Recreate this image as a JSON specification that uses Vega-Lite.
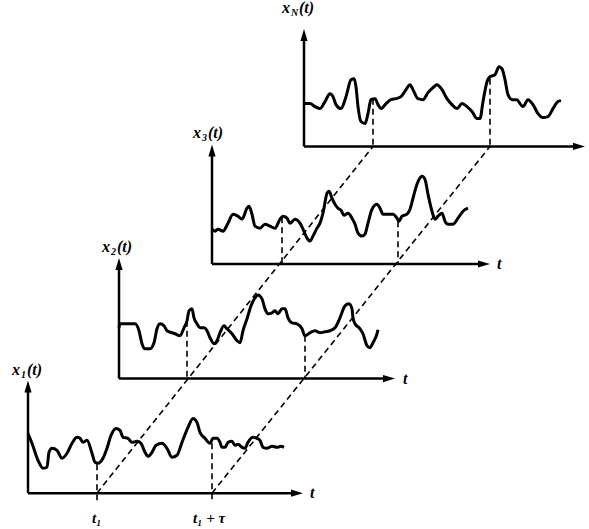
{
  "$schema": "https://vega.github.io/schema/vega-lite/v6.json",
  "width": 589,
  "height": 529,
  "autosize": {"type": "fit", "contains": "padding"},
  "padding": 0,
  "background": "white",
  "config": {"view": {"stroke": null}},
  "datasets": {
    "curves": [
      {"p":"1","x":28,"y":433},{"p":"1","x":32,"y":443},{"p":"1","x":38,"y":460},{"p":"1","x":43,"y":468},{"p":"1","x":47,"y":467},{"p":"1","x":49,"y":452},{"p":"1","x":52,"y":448},{"p":"1","x":57,"y":450},{"p":"1","x":62,"y":458},{"p":"1","x":67,"y":453},{"p":"1","x":72,"y":443},{"p":"1","x":77,"y":437},{"p":"1","x":80,"y":438},{"p":"1","x":83,"y":442},{"p":"1","x":87,"y":440},{"p":"1","x":92,"y":453},{"p":"1","x":95,"y":462},{"p":"1","x":98,"y":463},{"p":"1","x":103,"y":458},{"p":"1","x":107,"y":448},{"p":"1","x":111,"y":435},{"p":"1","x":116,"y":428},{"p":"1","x":120,"y":430},{"p":"1","x":123,"y":437},{"p":"1","x":128,"y":438},{"p":"1","x":132,"y":442},{"p":"1","x":137,"y":441},{"p":"1","x":141,"y":443},{"p":"1","x":145,"y":452},{"p":"1","x":148,"y":456},{"p":"1","x":152,"y":452},{"p":"1","x":156,"y":445},{"p":"1","x":162,"y":443},{"p":"1","x":167,"y":448},{"p":"1","x":172,"y":457},{"p":"1","x":177,"y":455},{"p":"1","x":182,"y":442},{"p":"1","x":188,"y":427},{"p":"1","x":193,"y":418},{"p":"1","x":197,"y":422},{"p":"1","x":200,"y":432},{"p":"1","x":205,"y":438},{"p":"1","x":210,"y":443},{"p":"1","x":213,"y":438},{"p":"1","x":217,"y":438},{"p":"1","x":220,"y":442},{"p":"1","x":222,"y":447},{"p":"1","x":225,"y":447},{"p":"1","x":228,"y":442},{"p":"1","x":232,"y":441},{"p":"1","x":235,"y":445},{"p":"1","x":238,"y":444},{"p":"1","x":242,"y":447},{"p":"1","x":245,"y":448},{"p":"1","x":248,"y":442},{"p":"1","x":253,"y":437},{"p":"1","x":257,"y":438},{"p":"1","x":260,"y":440},{"p":"1","x":263,"y":447},{"p":"1","x":267,"y":448},{"p":"1","x":272,"y":446},{"p":"1","x":277,"y":447},{"p":"1","x":281,"y":446},{"p":"1","x":284,"y":447},
      {"p":"2","x":119,"y":327},{"p":"2","x":120,"y":323},{"p":"2","x":125,"y":323},{"p":"2","x":130,"y":323},{"p":"2","x":135,"y":323},{"p":"2","x":139,"y":330},{"p":"2","x":142,"y":343},{"p":"2","x":145,"y":348},{"p":"2","x":150,"y":348},{"p":"2","x":154,"y":342},{"p":"2","x":157,"y":328},{"p":"2","x":160,"y":323},{"p":"2","x":164,"y":325},{"p":"2","x":167,"y":330},{"p":"2","x":172,"y":332},{"p":"2","x":175,"y":333},{"p":"2","x":180,"y":335},{"p":"2","x":184,"y":327},{"p":"2","x":187,"y":320},{"p":"2","x":189,"y":310},{"p":"2","x":192,"y":308},{"p":"2","x":194,"y":317},{"p":"2","x":197,"y":323},{"p":"2","x":200,"y":327},{"p":"2","x":204,"y":327},{"p":"2","x":207,"y":330},{"p":"2","x":210,"y":337},{"p":"2","x":214,"y":343},{"p":"2","x":217,"y":340},{"p":"2","x":220,"y":332},{"p":"2","x":224,"y":325},{"p":"2","x":227,"y":328},{"p":"2","x":232,"y":333},{"p":"2","x":237,"y":340},{"p":"2","x":240,"y":342},{"p":"2","x":243,"y":330},{"p":"2","x":247,"y":318},{"p":"2","x":251,"y":305},{"p":"2","x":255,"y":297},{"p":"2","x":258,"y":294},{"p":"2","x":262,"y":298},{"p":"2","x":265,"y":308},{"p":"2","x":268,"y":313},{"p":"2","x":272,"y":312},{"p":"2","x":275,"y":310},{"p":"2","x":278,"y":313},{"p":"2","x":282,"y":308},{"p":"2","x":285,"y":308},{"p":"2","x":288,"y":317},{"p":"2","x":292,"y":322},{"p":"2","x":297,"y":323},{"p":"2","x":302,"y":328},{"p":"2","x":305,"y":335},{"p":"2","x":310,"y":332},{"p":"2","x":315,"y":330},{"p":"2","x":320,"y":332},{"p":"2","x":325,"y":331},{"p":"2","x":330,"y":330},{"p":"2","x":335,"y":327},{"p":"2","x":340,"y":317},{"p":"2","x":345,"y":305},{"p":"2","x":349,"y":303},{"p":"2","x":352,"y":308},{"p":"2","x":353,"y":317},{"p":"2","x":355,"y":323},{"p":"2","x":360,"y":328},{"p":"2","x":363,"y":333},{"p":"2","x":367,"y":345},{"p":"2","x":370,"y":347},{"p":"2","x":373,"y":342},{"p":"2","x":377,"y":333},{"p":"2","x":378,"y":329},
      {"p":"3","x":212,"y":228},{"p":"3","x":215,"y":230},{"p":"3","x":218,"y":228},{"p":"3","x":223,"y":230},{"p":"3","x":228,"y":222},{"p":"3","x":233,"y":213},{"p":"3","x":238,"y":215},{"p":"3","x":242,"y":218},{"p":"3","x":247,"y":207},{"p":"3","x":249,"y":205},{"p":"3","x":252,"y":213},{"p":"3","x":255,"y":225},{"p":"3","x":260,"y":227},{"p":"3","x":265,"y":223},{"p":"3","x":270,"y":225},{"p":"3","x":275,"y":227},{"p":"3","x":280,"y":218},{"p":"3","x":283,"y":215},{"p":"3","x":287,"y":217},{"p":"3","x":290,"y":222},{"p":"3","x":295,"y":218},{"p":"3","x":300,"y":222},{"p":"3","x":303,"y":228},{"p":"3","x":307,"y":237},{"p":"3","x":310,"y":240},{"p":"3","x":313,"y":235},{"p":"3","x":317,"y":227},{"p":"3","x":320,"y":222},{"p":"3","x":323,"y":212},{"p":"3","x":327,"y":192},{"p":"3","x":329,"y":190},{"p":"3","x":332,"y":197},{"p":"3","x":335,"y":203},{"p":"3","x":338,"y":207},{"p":"3","x":341,"y":209},{"p":"3","x":344,"y":214},{"p":"3","x":348,"y":212},{"p":"3","x":352,"y":217},{"p":"3","x":355,"y":223},{"p":"3","x":358,"y":232},{"p":"3","x":362,"y":235},{"p":"3","x":365,"y":233},{"p":"3","x":368,"y":222},{"p":"3","x":372,"y":208},{"p":"3","x":377,"y":203},{"p":"3","x":380,"y":207},{"p":"3","x":383,"y":213},{"p":"3","x":388,"y":213},{"p":"3","x":393,"y":213},{"p":"3","x":397,"y":217},{"p":"3","x":399,"y":220},{"p":"3","x":402,"y":215},{"p":"3","x":407,"y":213},{"p":"3","x":410,"y":208},{"p":"3","x":413,"y":197},{"p":"3","x":417,"y":183},{"p":"3","x":422,"y":175},{"p":"3","x":425,"y":178},{"p":"3","x":428,"y":193},{"p":"3","x":432,"y":210},{"p":"3","x":435,"y":218},{"p":"3","x":438,"y":215},{"p":"3","x":442,"y":212},{"p":"3","x":445,"y":220},{"p":"3","x":448,"y":223},{"p":"3","x":453,"y":223},{"p":"3","x":458,"y":217},{"p":"3","x":463,"y":210},{"p":"3","x":468,"y":207},
      {"p":"N","x":305,"y":102},{"p":"N","x":310,"y":102},{"p":"N","x":315,"y":105},{"p":"N","x":320,"y":107},{"p":"N","x":325,"y":100},{"p":"N","x":330,"y":92},{"p":"N","x":333,"y":95},{"p":"N","x":336,"y":103},{"p":"N","x":341,"y":107},{"p":"N","x":346,"y":95},{"p":"N","x":351,"y":78},{"p":"N","x":354,"y":77},{"p":"N","x":356,"y":85},{"p":"N","x":358,"y":105},{"p":"N","x":361,"y":120},{"p":"N","x":365,"y":122},{"p":"N","x":368,"y":112},{"p":"N","x":371,"y":98},{"p":"N","x":375,"y":97},{"p":"N","x":378,"y":103},{"p":"N","x":381,"y":107},{"p":"N","x":386,"y":102},{"p":"N","x":391,"y":98},{"p":"N","x":396,"y":97},{"p":"N","x":401,"y":95},{"p":"N","x":406,"y":88},{"p":"N","x":410,"y":83},{"p":"N","x":413,"y":88},{"p":"N","x":418,"y":97},{"p":"N","x":423,"y":98},{"p":"N","x":428,"y":91},{"p":"N","x":433,"y":86},{"p":"N","x":437,"y":83},{"p":"N","x":442,"y":88},{"p":"N","x":447,"y":97},{"p":"N","x":452,"y":103},{"p":"N","x":457,"y":107},{"p":"N","x":462,"y":102},{"p":"N","x":467,"y":105},{"p":"N","x":472,"y":110},{"p":"N","x":477,"y":117},{"p":"N","x":480,"y":117},{"p":"N","x":483,"y":100},{"p":"N","x":487,"y":80},{"p":"N","x":490,"y":75},{"p":"N","x":495,"y":73},{"p":"N","x":499,"y":65},{"p":"N","x":502,"y":67},{"p":"N","x":505,"y":78},{"p":"N","x":508,"y":93},{"p":"N","x":512,"y":98},{"p":"N","x":517,"y":98},{"p":"N","x":520,"y":102},{"p":"N","x":523,"y":105},{"p":"N","x":528,"y":98},{"p":"N","x":533,"y":103},{"p":"N","x":538,"y":112},{"p":"N","x":543,"y":116},{"p":"N","x":548,"y":115},{"p":"N","x":553,"y":107},{"p":"N","x":558,"y":100},{"p":"N","x":561,"y":99}
    ],
    "axes": [
      {"x":28,"y":390,"x2":28,"y2":493},{"x":28,"y":493,"x2":296,"y2":493},
      {"x":119,"y":267,"x2":119,"y2":378},{"x":119,"y":378,"x2":388,"y2":378},
      {"x":212,"y":153,"x2":212,"y2":263},{"x":212,"y":263,"x2":483,"y2":263},
      {"x":304,"y":37,"x2":304,"y2":145},{"x":304,"y":145,"x2":578,"y2":145}
    ],
    "arrows": [
      {"x":28,"y":386,"shape":"M0,-1L0.6,1L-0.6,1Z"},{"x":297,"y":493,"shape":"M1,0L-1,0.6L-1,-0.6Z"},
      {"x":119,"y":263,"shape":"M0,-1L0.6,1L-0.6,1Z"},{"x":389,"y":378,"shape":"M1,0L-1,0.6L-1,-0.6Z"},
      {"x":212,"y":149,"shape":"M0,-1L0.6,1L-0.6,1Z"},{"x":484,"y":263,"shape":"M1,0L-1,0.6L-1,-0.6Z"},
      {"x":304,"y":33,"shape":"M0,-1L0.6,1L-0.6,1Z"},{"x":579,"y":145,"shape":"M1,0L-1,0.6L-1,-0.6Z"}
    ],
    "dashes": [
      {"x":97,"y":464,"x2":97,"y2":503},{"x":212,"y":443,"x2":212,"y2":502},
      {"x":187,"y":320,"x2":187,"y2":378},{"x":305,"y":335,"x2":305,"y2":378},
      {"x":282,"y":216,"x2":282,"y2":263},{"x":398,"y":220,"x2":398,"y2":263},
      {"x":373,"y":97,"x2":373,"y2":145},{"x":490,"y":77,"x2":490,"y2":145},
      {"x":97,"y":493,"x2":373,"y2":145},{"x":212,"y":493,"x2":490,"y2":145}
    ],
    "labels": [
      {"s":"x","x":12,"y":374,"fs":16},{"s":"1","x":21,"y":377,"fs":10},{"s":"(t)","x":27,"y":374,"fs":16},
      {"s":"x","x":102,"y":251,"fs":16},{"s":"2","x":111,"y":254,"fs":10},{"s":"(t)","x":117,"y":251,"fs":16},
      {"s":"x","x":193,"y":137,"fs":16},{"s":"3","x":202,"y":140,"fs":10},{"s":"(t)","x":208,"y":137,"fs":16},
      {"s":"x","x":282,"y":11,"fs":16},{"s":"N","x":291,"y":14,"fs":10},{"s":"(t)","x":299,"y":11,"fs":16},
      {"s":"t","x":310,"y":498,"fs":16},{"s":"t","x":403,"y":383,"fs":16},{"s":"t","x":497,"y":268,"fs":16},
      {"s":"t₁","x":92,"y":523,"fs":15},{"s":"t₁ + τ","x":193,"y":523,"fs":15}
    ]
  },
  "layer": [
    {
      "data": {"name": "dashes"},
      "mark": {"type": "rule", "color": "black", "strokeWidth": 1.6, "strokeDash": [6, 4]},
      "encoding": {
        "x": {"field": "x", "type": "quantitative", "scale": {"domain": [0, 589], "nice": false, "zero": false}, "axis": null},
        "y": {"field": "y", "type": "quantitative", "scale": {"domain": [0, 529], "nice": false, "zero": false, "reverse": true}, "axis": null},
        "x2": {"field": "x2"},
        "y2": {"field": "y2"}
      }
    },
    {
      "data": {"name": "axes"},
      "mark": {"type": "rule", "color": "black", "strokeWidth": 2.5},
      "encoding": {
        "x": {"field": "x", "type": "quantitative"},
        "y": {"field": "y", "type": "quantitative"},
        "x2": {"field": "x2"},
        "y2": {"field": "y2"}
      }
    },
    {
      "data": {"name": "arrows"},
      "mark": {"type": "point", "filled": true, "color": "black", "opacity": 1, "size": 144, "strokeWidth": 0},
      "encoding": {
        "x": {"field": "x", "type": "quantitative"},
        "y": {"field": "y", "type": "quantitative"},
        "shape": {"field": "shape", "type": "nominal", "scale": null}
      }
    },
    {
      "data": {"name": "curves"},
      "mark": {"type": "line", "color": "black", "strokeWidth": 3, "interpolate": "monotone", "strokeJoin": "round"},
      "encoding": {
        "x": {"field": "x", "type": "quantitative"},
        "y": {"field": "y", "type": "quantitative"},
        "detail": {"field": "p", "type": "nominal"}
      }
    },
    {
      "data": {"name": "labels"},
      "mark": {"type": "text", "font": "Liberation Serif", "fontStyle": "italic", "fontWeight": "bold", "align": "left", "baseline": "alphabetic", "color": "black"},
      "encoding": {
        "x": {"field": "x", "type": "quantitative"},
        "y": {"field": "y", "type": "quantitative"},
        "text": {"field": "s", "type": "nominal"},
        "size": {"field": "fs", "type": "quantitative", "scale": null}
      }
    }
  ]
}
